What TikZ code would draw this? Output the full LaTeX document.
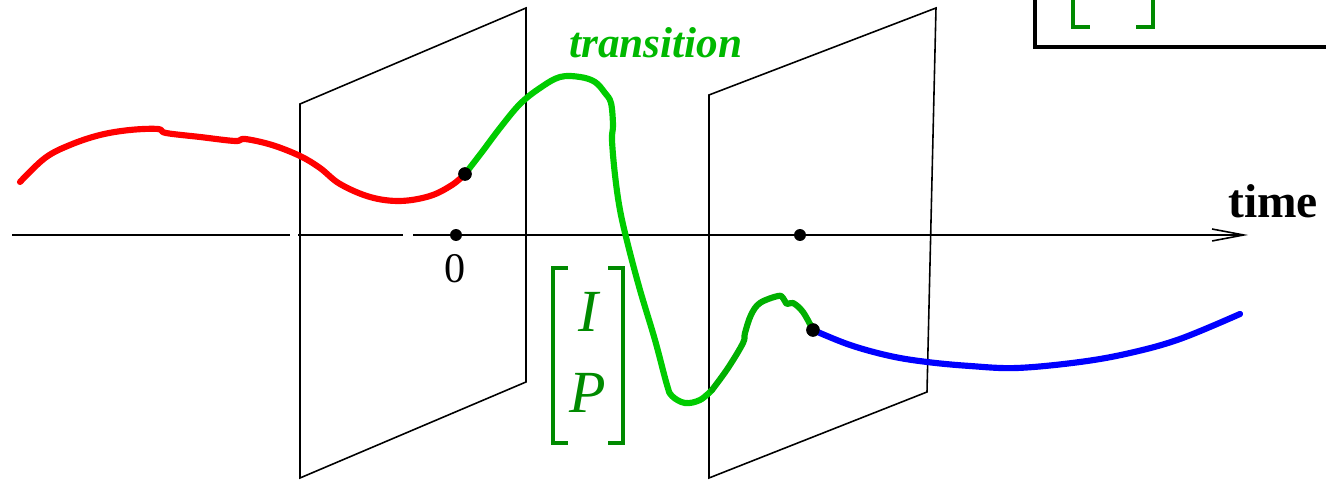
\documentclass[tikz,border=0pt]{standalone}
\usepackage{fontspec}
\setmainfont{Liberation Serif}
\usetikzlibrary{arrows.meta}
\definecolor{trred}{HTML}{FF0000}
\definecolor{trgreen}{HTML}{00CC00}
\definecolor{trgreendk}{HTML}{00B000}
\definecolor{trblue}{HTML}{0000FF}
\definecolor{mxgreen}{HTML}{008A00}
\tikzset{
  plane/.style={line width=0.45pt, line join=miter},
  path curve/.style={line width=1.75pt, line cap=round, line join=round},
  tdot/.style={circle, fill=black, inner sep=0pt, minimum size=3.4pt},
  bracket/.style={mxgreen, line width=1.05pt}
}
\begin{document}
\begin{tikzpicture}[x=0.01cm, y=-0.01cm]
    \useasboundingbox (0,0) rectangle (1326,480);
    % time axis (with small gaps)
    \coordinate (axstart) at (12,235);
    \coordinate (axend) at (1248,235);
    \draw[line width=0.45pt] (axstart) -- (290,235);
    \draw[line width=0.45pt] (298,235) -- (403,235);
    \draw[line width=0.45pt, -{Straight Barb[length=9pt,width=3.4pt]}] (413,235) -- (axend);
    \node[tdot] (zero) at (456,235) {};
    \node[tdot] (tend) at (800,235) {};
    \draw[line width=0.8pt] (zero) -- (520,235);
    \node[font=\fontsize{12}{14}\selectfont, anchor=base] (zerolbl) at (455,283) {0};
    \node[font=\fontsize{13.5}{15}\selectfont\bfseries, anchor=base] (timelbl) at (1273,218) {time};
    % planes
    \draw[plane] (300,104) -- (526,8) -- (526,382) -- (300,478) -- cycle;
    \draw[plane] (709,95) -- (936,8) -- (927,392) -- (709,478) -- cycle;
    % curve endpoints
    \coordinate (redstart) at (20,182);
    \node[tdot, minimum size=3.8pt] (pin) at (465,174) {};
    \node[tdot, minimum size=3.8pt] (pout) at (813,330) {};
    \coordinate (blueend) at (1240,314);
    % red part
    \draw[path curve, trred] plot[smooth, tension=0.6] coordinates {
      (20,182) (45,158) (70,145) (100,135) (130,130) (158,129) (166,133)
      (200,137) (235,141) (245,139) (272,145) (300,156) (320,168) (340,184)
      (370,197) (400,201) (430,196) (452,185) (465,174)};
    % green transition
    \draw[path curve, trgreen] plot[smooth, tension=0.6] coordinates {
      (465,174) (482,152) (500,128) (520,104) (540,88) (560,77) (580,77)
      (595,82) (605,93) (611,103) (613,125) (612,140) (615,175) (620,210)
      (628,245) (640,290) (655,340) (667,385) (672,396) (685,403) (700,400) (712,390)};
    \draw[path curve, trgreendk] plot[smooth, tension=0.6] coordinates {
      (712,390) (728,368) (743,343) (745,333) (751,315) (760,303) (778,296)
      (783,298) (787,304) (793,303) (803,312) (813,330)};
    % blue part
    \draw[path curve, trblue] plot[smooth, tension=0.6] coordinates {
      (813,330) (850,345) (890,356) (927,362) (970,366) (1017,368)
      (1080,362) (1130,353) (1180,339) (1240,314)};
    \node[tdot, minimum size=3.8pt] at (pin) {};
    \node[tdot, minimum size=3.8pt] at (pout) {};
    \node[trgreen!90!black, font=\fontsize{12.3}{14}\selectfont\bfseries\itshape, anchor=base] (translbl) at (656,58) {transition};
    % [I P] vector
    \draw[bracket] (568,268) -- (553,268) -- (553,443) -- (568,443);
    \draw[bracket] (608,268) -- (623,268) -- (623,443) -- (608,443);
    \node[mxgreen, font=\fontsize{17}{19}\selectfont\itshape, anchor=base] (vecI) at (588,332) {I};
    \node[mxgreen, font=\fontsize{17}{19}\selectfont\itshape, anchor=base] (vecP) at (588,413) {P};
    % box at top right
    \draw[line width=1.15pt] (1035,-5) -- (1035,47) -- (1330,47);
    \draw[bracket] (1073,-5) -- (1073,27) -- (1090,27);
    \draw[bracket] (1153,-5) -- (1153,27) -- (1136,27);
\end{tikzpicture}
\end{document}
